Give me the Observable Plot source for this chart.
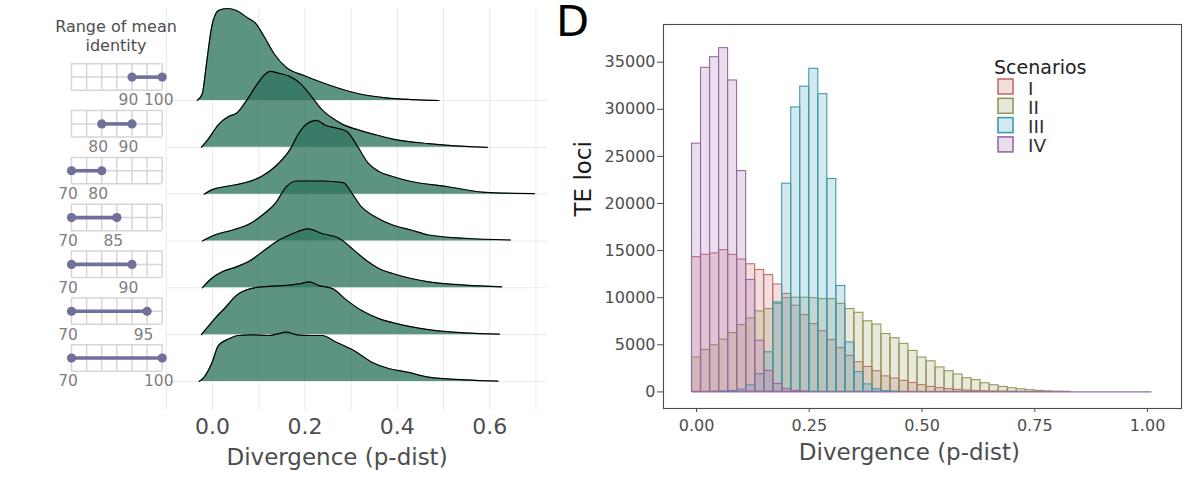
<!DOCTYPE html>
<html><head><meta charset="utf-8">
<script src="https://cdn.jsdelivr.net/npm/d3@7"></script>
<script src="https://cdn.jsdelivr.net/npm/@observablehq/plot@0.6"></script>
<style>
body{margin:0;background:#fff;}
#root{position:relative;width:1200px;height:478px;overflow:hidden;background:#fff;font-family:"DejaVu Sans",sans-serif;}
#root > svg{position:absolute;top:0;}
</style></head><body><div id="root"></div>
<script>
// ---------- Ridgeline panel data (top to bottom) ----------
const identityRangeLo = [90, 80, 70, 70, 70, 70, 70];
const identityRangeHi = [100, 90, 80, 85, 90, 95, 100];
const identityScale = [70, 75, 80, 85, 90, 95, 100];

const ridgeX_90_100 = [-0.033,-0.022,-0.014,-0.002,0.013,0.032,0.052,0.075,0.094,0.113,0.133,0.16,0.198,0.237,0.275,0.314,0.375,0.43,0.49];
const ridgeD_90_100 = [0,0.143,0.705,1.559,1.922,1.965,1.922,1.772,1.644,1.345,1.004,0.705,0.534,0.384,0.256,0.149,0.058,0.021,0];
const ridgeX_80_90 = [-0.024,-0.01,0.013,0.036,0.052,0.075,0.098,0.113,0.125,0.144,0.167,0.19,0.214,0.237,0.26,0.283,0.314,0.352,0.39,0.468,0.545,0.595];
const ridgeD_80_90 = [0,0.164,0.485,0.662,0.726,1.019,1.367,1.552,1.623,1.58,1.516,1.367,1.089,0.805,0.619,0.485,0.378,0.271,0.177,0.079,0.021,0];
const ridgeX_70_80 = [-0.018,-0.002,0.029,0.067,0.106,0.136,0.167,0.187,0.206,0.225,0.244,0.268,0.291,0.314,0.337,0.36,0.39,0.43,0.507,0.584,0.638,0.697];
const ridgeD_70_80 = [0,0.092,0.164,0.235,0.378,0.591,0.94,1.303,1.516,1.574,1.473,1.409,1.339,1.019,0.662,0.485,0.378,0.271,0.164,0.043,0.021,0.011];
const ridgeX_70_85 = [-0.022,0.005,0.044,0.083,0.113,0.136,0.16,0.183,0.237,0.283,0.302,0.322,0.352,0.39,0.43,0.468,0.545,0.645];
const ridgeD_70_85 = [0,0.128,0.235,0.378,0.591,0.805,1.16,1.281,1.281,1.245,1.019,0.732,0.519,0.342,0.235,0.128,0.058,0.021];
const ridgeX_70_90 = [-0.022,-0.002,0.021,0.052,0.083,0.113,0.144,0.175,0.207,0.237,0.275,0.306,0.337,0.36,0.39,0.43,0.468,0.545,0.626];
const ridgeD_70_90 = [0,0.199,0.342,0.448,0.591,0.805,1.019,1.16,1.26,1.16,1.053,0.805,0.555,0.412,0.305,0.199,0.128,0.058,0.021];
const ridgeX_70_95 = [-0.024,-0.01,0.005,0.029,0.052,0.083,0.121,0.16,0.19,0.21,0.229,0.26,0.291,0.322,0.36,0.399,0.468,0.545,0.621];
const ridgeD_70_95 = [0,0.164,0.342,0.591,0.839,0.982,1.031,1.053,1.089,1.125,1.053,0.982,0.732,0.519,0.342,0.235,0.107,0.036,0.011];
const ridgeX_70_100 = [-0.029,-0.018,-0.002,0.013,0.036,0.056,0.083,0.121,0.136,0.16,0.183,0.214,0.237,0.268,0.306,0.345,0.383,0.422,0.468,0.545,0.618];
const ridgeD_70_100 = [0,0.092,0.378,0.769,0.912,0.982,0.997,0.982,1.004,1.053,0.997,0.982,0.982,0.839,0.662,0.412,0.271,0.199,0.092,0.036,0.006];

const ridgeGrid = [-0.1, 0, 0.1, 0.2, 0.3, 0.4, 0.5, 0.6, 0.7];
const ridgeTicks = [0, 0.2, 0.4, 0.6];

// ---------- Histogram panel data ----------
const binCenters = [0,0.02,0.04,0.06,0.08,0.1,0.12,0.14,0.16,0.18,0.2,0.22,0.24,0.26,0.28,0.3,0.32,0.34,0.36,0.38,0.4,0.42,0.44,0.46,0.48,0.5,0.52,0.54,0.56,0.58,0.6,0.62,0.64,0.66,0.68,0.7,0.72,0.74,0.76,0.78,0.8,0.82,0.84,0.86,0.88,0.9,0.92,0.94,0.96,0.98,1];
const countsI = [14300,14550,14700,15050,14550,14050,13550,12950,12400,11400,10400,9150,8150,7200,6450,5500,4650,3830,3150,2650,2200,1650,1420,1170,950,720,530,400,290,210,150,100,70,50,30,20,10,0,0,0,0,0,0,0,0,0,0,0,0,0,0];
const countsII = [3650,4450,4950,5550,6250,7100,7800,8550,8800,9350,9950,10000,10000,9950,9850,9850,9350,8800,8400,7500,7150,6150,5700,5100,4350,3650,3250,2600,2200,1850,1450,1250,920,710,530,390,280,180,110,60,30,15,0,0,0,0,0,0,0,0,0];
const countsIII = [0,0,20,50,100,250,700,1880,4200,9500,22100,30200,32400,34300,31600,22600,11250,5250,2100,800,280,80,20,0,0,0,0,0,0,0,0,0,0,0,0,0,0,0,0,0,0,0,0,0,0,0,0,0,0,0,0];
const countsIV = [26350,34400,35530,36490,33060,23440,11880,5430,2230,850,320,100,30,0,0,0,0,0,0,0,0,0,0,0,0,0,0,0,0,0,0,0,0,0,0,0,0,0,0,0,0,0,0,0,0,0,0,0,0,0,0];
const scenarioNames = ["I", "II", "III", "IV"];
const scenarioColors = ["#c76b6b", "#97975a", "#3d9bb3", "#9b69a6"];
const histXTicks = [0, 0.25, 0.5, 0.75, 1];
const histYTicks = [0, 5000, 10000, 15000, 20000, 25000, 30000, 35000];

// ---------- Build tables ----------
const ridges = [
  {x: ridgeX_90_100, d: ridgeD_90_100},
  {x: ridgeX_80_90, d: ridgeD_80_90},
  {x: ridgeX_70_80, d: ridgeD_70_80},
  {x: ridgeX_70_85, d: ridgeD_70_85},
  {x: ridgeX_70_90, d: ridgeD_70_90},
  {x: ridgeX_70_95, d: ridgeD_70_95},
  {x: ridgeX_70_100, d: ridgeD_70_100}
];
const nRows = ridges.length;
const rowIdx = ridges.map((r, i) => nRows - 1 - i);
const ridgePts = ridges.flatMap((r, i) => r.x.map((x, j) => ({row: nRows - 1 - i, x, d: r.d[j]})));

const idMin = d3.min(identityScale), idMax = d3.max(identityScale);
const cellCols = rowIdx.flatMap(row => identityScale.map(v => ({row, v})));
const cellRows = rowIdx.flatMap(row => [0.22, 0.5, 0.785].map(o => ({y: row + o})));
const ranges = identityRangeLo.map((lo, i) => ({row: nRows - 1 - i, lo, hi: identityRangeHi[i]}));
const endpoints = ranges.flatMap(r => [{row: r.row, v: r.lo}, {row: r.row, v: r.hi}]);

const binW = binCenters[1] - binCenters[0];
const allCounts = [countsI, countsII, countsIII, countsIV];
const histData = scenarioNames.flatMap((s, k) => binCenters.map((c, i) => ({s, x1: c - binW / 2, x2: c + binW / 2, y: allCounts[k][i]})));

const font = "DejaVu Sans";
const root = document.getElementById("root");
const yDomainRidge = [-0.62, 7.965];

// ---------- Ridgeline plot ----------
const ridgePlot = Plot.plot({
  width: 560, height: 478,
  marginLeft: 165, marginRight: 13, marginTop: 8, marginBottom: 68,
  x: {domain: [-0.1017, 0.725], axis: null},
  y: {domain: yDomainRidge, axis: null},
  style: {fontFamily: font, background: "transparent", overflow: "visible"},
  marks: [
    Plot.ruleX(ridgeGrid, {stroke: "#ebebeb", strokeWidth: 1.1}),
    Plot.ruleY(rowIdx, {stroke: "#ebebeb", strokeWidth: 1.1}),
    Plot.areaY(ridgePts, {x: "x", y1: "row", y2: d => d.row + d.d, z: "row", fill: "#2f7560", fillOpacity: 0.78, curve: "monotone-x"}),
    Plot.lineY(ridgePts, {x: "x", y: d => d.row + d.d, z: "row", stroke: "#000", strokeWidth: 1.2, curve: "monotone-x"}),
    Plot.text(ridgeTicks, {x: d => d, text: d => d.toFixed(1), frameAnchor: "bottom", lineAnchor: "middle", dy: 16, fontSize: 22, fill: "#4d4d4d"}),
    Plot.text(["Divergence (p-dist)"], {x: 0.2695, frameAnchor: "bottom", lineAnchor: "middle", dy: 47, fontSize: 23, fill: "#4d4d4d"})
  ]
});
ridgePlot.style.left = "0px";
root.appendChild(ridgePlot);

// ---------- Identity-range mini graphics ----------
const purple = "#70709b";
const miniPlot = Plot.plot({
  width: 180, height: 478,
  marginLeft: 71, marginRight: 18.3, marginTop: 8, marginBottom: 68,
  x: {domain: [idMin, idMax], axis: null},
  y: {domain: yDomainRidge, axis: null},
  style: {fontFamily: font, background: "transparent", overflow: "visible"},
  marks: [
    Plot.ruleX(cellCols, {x: "v", y1: d => d.row + 0.22, y2: d => d.row + 0.785, stroke: "#d6d6d6", strokeWidth: 1.5}),
    Plot.ruleY(cellRows, {y: "y", x1: idMin, x2: idMax, stroke: "#d6d6d6", strokeWidth: 1.5}),
    Plot.ruleY(ranges, {y: d => d.row + 0.5, x1: "lo", x2: "hi", stroke: purple, strokeWidth: 3.6}),
    Plot.dot(endpoints, {x: "v", y: d => d.row + 0.5, r: 4.6, fill: purple, stroke: "none"}),
    Plot.text(endpoints, {x: "v", y: "row", text: d => String(d.v), dx: -3.5, fontSize: 15.5, fill: "#808080"})
  ]
});
miniPlot.style.left = "0px";
root.appendChild(miniPlot);

// ---------- Histogram ----------
const histPlot = Plot.plot({
  width: 640, height: 478,
  marginLeft: 103, marginRight: 19, marginTop: 24, marginBottom: 70,
  x: {domain: [-0.0732, 1.0754], ticks: histXTicks, tickFormat: d3.format(".2f"), tickSize: 4, tickPadding: 7, label: null},
  y: {domain: [-1760, 39000], ticks: histYTicks, tickFormat: d3.format("d"), tickSize: 6, tickPadding: 2, label: null},
  color: {domain: scenarioNames, range: scenarioColors},
  style: {fontFamily: font, fontSize: "16px", color: "#4d4d4d", background: "transparent", overflow: "visible"},
  marks: [
    Plot.rect(histData, {x1: "x1", x2: "x2", y1: 0, y2: "y", fill: "s", stroke: "s", fillOpacity: 0.22, strokeWidth: 1.1}),
    Plot.ruleY([0], {x1: binCenters[0] - binW / 2, x2: binCenters[binCenters.length - 1] + binW / 2, stroke: scenarioColors[3], strokeWidth: 1.2}),
    Plot.frame({stroke: "#4d4d4d", strokeWidth: 1.1}),
    Plot.text(["TE loci"], {frameAnchor: "left", dx: -80, rotate: -90, fontSize: 23, fill: "#1a1a1a"}),
    Plot.text(["Divergence (p-dist)"], {x: 0.472, frameAnchor: "bottom", lineAnchor: "middle", dy: 44, fontSize: 23, fill: "#4d4d4d"})
  ]
});
histPlot.style.left = "560px";
root.appendChild(histPlot);

// ---------- Annotations: panel letter, title, legend ----------
const ann = d3.select(root).append("svg")
  .attr("width", 1200).attr("height", 478)
  .style("left", "0px").style("pointer-events", "none")
  .attr("font-family", font);
ann.append("text").attr("x", 556).attr("y", 36).attr("font-size", 43).attr("fill", "#000").text("D");
ann.append("text").attr("x", 116).attr("y", 32).attr("font-size", 16).attr("text-anchor", "middle").attr("fill", "#4d4d4d").text("Range of mean");
ann.append("text").attr("x", 116).attr("y", 51).attr("font-size", 16).attr("text-anchor", "middle").attr("fill", "#4d4d4d").text("identity");
ann.append("text").attr("x", 994).attr("y", 74).attr("font-size", 19).attr("fill", "#222").text("Scenarios");
scenarioNames.forEach((s, i) => {
  const top = 79 + i * 19.3;
  ann.append("rect").attr("x", 998).attr("y", top).attr("width", 15).attr("height", 15)
    .attr("fill", scenarioColors[i]).attr("fill-opacity", 0.22)
    .attr("stroke", scenarioColors[i]).attr("stroke-width", 1.6);
  ann.append("text").attr("x", 1028).attr("y", top + 15.5).attr("font-size", 18.5).attr("fill", "#333").text(s);
});
</script></body></html>
